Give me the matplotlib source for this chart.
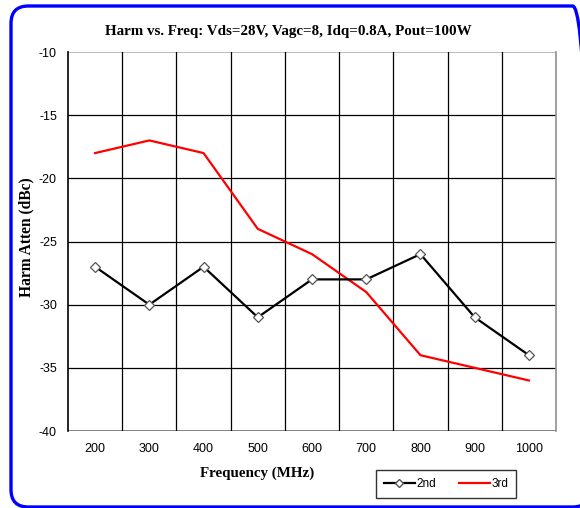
import matplotlib.pyplot as plt
import numpy as np
from matplotlib.patches import FancyBboxPatch
from matplotlib.lines import Line2D

freqs = [200, 300, 400, 500, 600, 700, 800, 900, 1000]
harm_2nd = [-27, -30, -27, -31, -28, -28, -26, -31, -34]
harm_3rd = [-18, -17, -18, -24, -26, -29, -34, -35, -36]
y_ticks = [-10, -15, -20, -25, -30, -35, -40]

serif = ['Liberation Serif', 'DejaVu Serif']
sans = ['Liberation Sans', 'DejaVu Sans']

fig = plt.figure(figsize=(5.8, 5.08), dpi=100)
ax = fig.add_axes([68 / 580, 77 / 508, 488 / 580, 379 / 508])

x = np.arange(len(freqs))

# grid: horizontal black lines, vertical lines between categories
for yv in y_ticks:
    col = '#b0b0b0' if yv == -10 else 'black'
    if yv == -40:
        col = '#707070'
    ax.axhline(yv, color=col, lw=1.2 if yv in (-10, -40) else 0.9, zorder=1)
for xv in np.arange(0.5, len(freqs) - 1, 1.0):
    ax.axvline(xv, color='black', lw=0.9, zorder=1)

ax.plot(x, harm_2nd, color='black', lw=1.6, marker='D', markersize=5,
        markerfacecolor='white', markeredgecolor='#555555', markeredgewidth=0.9,
        zorder=3, label='2nd')
ax.plot(x, harm_3rd, color='#ff0000', lw=1.6, zorder=2, label='3rd')

ax.set_xlim(-0.5, len(freqs) - 0.5)
ax.set_ylim(-40, -10)
ax.set_xticks(x)
ax.set_xticklabels([str(f) for f in freqs], family=sans, fontsize=9)
ax.set_yticks(y_ticks)
ax.set_yticklabels([str(v) for v in y_ticks], family=sans, fontsize=9)
ax.tick_params(axis='x', length=0, pad=9)
ax.tick_params(axis='y', length=0, pad=8)

for side in ['top', 'bottom']:
    ax.spines[side].set_visible(False)
ax.spines['left'].set_color('black')
ax.spines['left'].set_linewidth(1.2)
ax.spines['right'].set_color('#909090')
ax.spines['right'].set_linewidth(1.2)

fig.text(288 / 580, 1 - 31 / 508, 'Harm vs. Freq: Vds=28V, Vagc=8, Idq=0.8A, Pout=100W',
         ha='center', va='center', family=serif, fontweight='bold', fontsize=10.8)
fig.text(26 / 580, 1 - 237 / 508, 'Harm Atten (dBc)', rotation=90,
         ha='center', va='center', family=serif, fontweight='bold', fontsize=11.2)
fig.text(257 / 580, 1 - 473 / 508, 'Frequency (MHz)',
         ha='center', va='center', family=serif, fontweight='bold', fontsize=10.8)

# legend box
handles = [Line2D([], [], color='black', lw=1.6, marker='D', markersize=4,
                  markerfacecolor='white', markeredgecolor='#555555'),
           Line2D([], [], color='#ff0000', lw=1.6)]
leg = fig.legend(handles, ['2nd', '3rd'], ncol=2, loc='center',
                 bbox_to_anchor=(446 / 580, 1 - 484 / 508),
                 frameon=True, fancybox=False, edgecolor='black',
                 prop={'family': sans, 'size': 8.5}, handlelength=2.6,
                 columnspacing=2.0, handletextpad=0.1, borderpad=0.7)
leg.get_frame().set_linewidth(1.0)

# blue rounded border, running off the right and bottom edges
x0, x1 = 11 / 580, 590 / 580
y0, y1 = 1 - 507 / 508, 1 - 6 / 508
border = FancyBboxPatch((x0, y0), x1 - x0, y1 - y0,
                        boxstyle='round,pad=0,rounding_size=0.03',
                        mutation_aspect=580 / 508,
                        transform=fig.transFigure, fill=False,
                        edgecolor='#0000ff', lw=2.4, clip_on=False)
fig.patches.append(border)

fig.savefig('out.png', dpi=100)
